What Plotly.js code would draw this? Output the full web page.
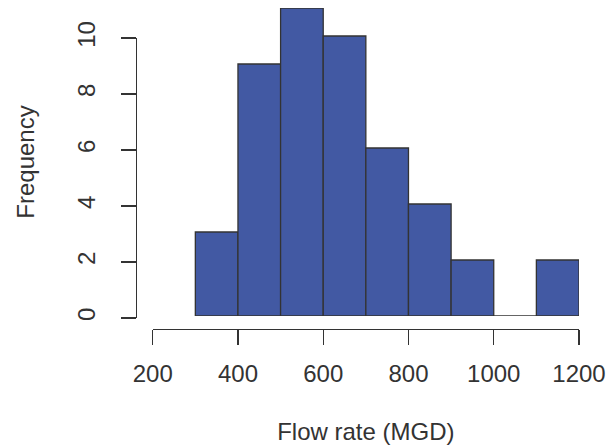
<!DOCTYPE html>
<html>
<head>
<meta charset="utf-8">
<script src="https://cdn.plot.ly/plotly-3.0.1.min.js"></script>
<style>html,body{margin:0;padding:0;background:#fff}#plot{width:610px;height:447px}</style>
</head>
<body>
<div id="plot"></div>
<script>
// Histogram data (bin edges and counts)
const breaks = [300, 400, 500, 600, 700, 800, 900, 1000, 1100, 1200];
const counts = [3, 9, 11, 10, 6, 4, 2, 0, 2];
const xTicks = [200, 400, 600, 800, 1000, 1200];
const yTicks = [0, 2, 4, 6, 8, 10];
const xLabel = "Flow rate (MGD)";
const yLabel = "Frequency";

const mids = counts.map((c, i) => (breaks[i] + breaks[i + 1]) / 2);
const widths = counts.map((c, i) => breaks[i + 1] - breaks[i]);

const txt = '#333333';
const font = {family: 'Liberation Sans, Arial, sans-serif', size: 24, color: txt};

const traces = [
  {
    type: 'bar', x: mids, y: counts, width: widths,
    marker: {color: '#4259A3', line: {color: '#333333', width: 1.3}},
    xaxis: 'x', yaxis: 'y', hoverinfo: 'x+y', showlegend: false
  },
  {
    type: 'scatter', mode: 'markers', x: [xTicks[0]], y: [yTicks[0]],
    marker: {opacity: 0}, xaxis: 'x', yaxis: 'y2', showlegend: false, hoverinfo: 'skip'
  }
];

const layout = {
  width: 610, height: 447,
  margin: {l: 136, r: 31, t: 8, b: 118, pad: 0},
  paper_bgcolor: '#fff', plot_bgcolor: 'rgba(0,0,0,0)',
  font: font,
  bargap: 0,
  showlegend: false,
  xaxis: {
    domain: [0.0377, 1], range: [200, 1200], anchor: 'free', position: 0,
    showgrid: false, zeroline: false, showline: true, linecolor: txt, linewidth: 1.3,
    ticks: 'outside', ticklen: 15, tickwidth: 1.3, tickcolor: txt,
    tickmode: 'array', tickvals: xTicks, ticktext: xTicks.map(String),
    ticklabelstandoff: 8,
    tickfont: font,
    title: {text: xLabel, font: font, standoff: 37},
    automargin: false
  },
  yaxis: {
    domain: [0.0405, 1], range: [0, 11], anchor: 'free', position: 0,
    showgrid: false, zeroline: false, showline: false, ticks: '', showticklabels: false,
    title: {text: yLabel, font: font, standoff: 93},
    automargin: false
  },
  yaxis2: {
    domain: [0.0343, 0.9065], range: [0, 10], anchor: 'free', position: 0,
    showgrid: false, zeroline: false, showline: true, linecolor: txt, linewidth: 1.3,
    ticks: 'outside', ticklen: 15, tickwidth: 1.3, tickcolor: txt,
    tickmode: 'array', tickvals: yTicks, ticktext: yTicks.map(String),
    tickangle: -90, ticklabelstandoff: 16,
    tickfont: font,
    automargin: false
  }
};

Plotly.newPlot('plot', traces, layout, {staticPlot: true, displayModeBar: false});
</script>
</body>
</html>
